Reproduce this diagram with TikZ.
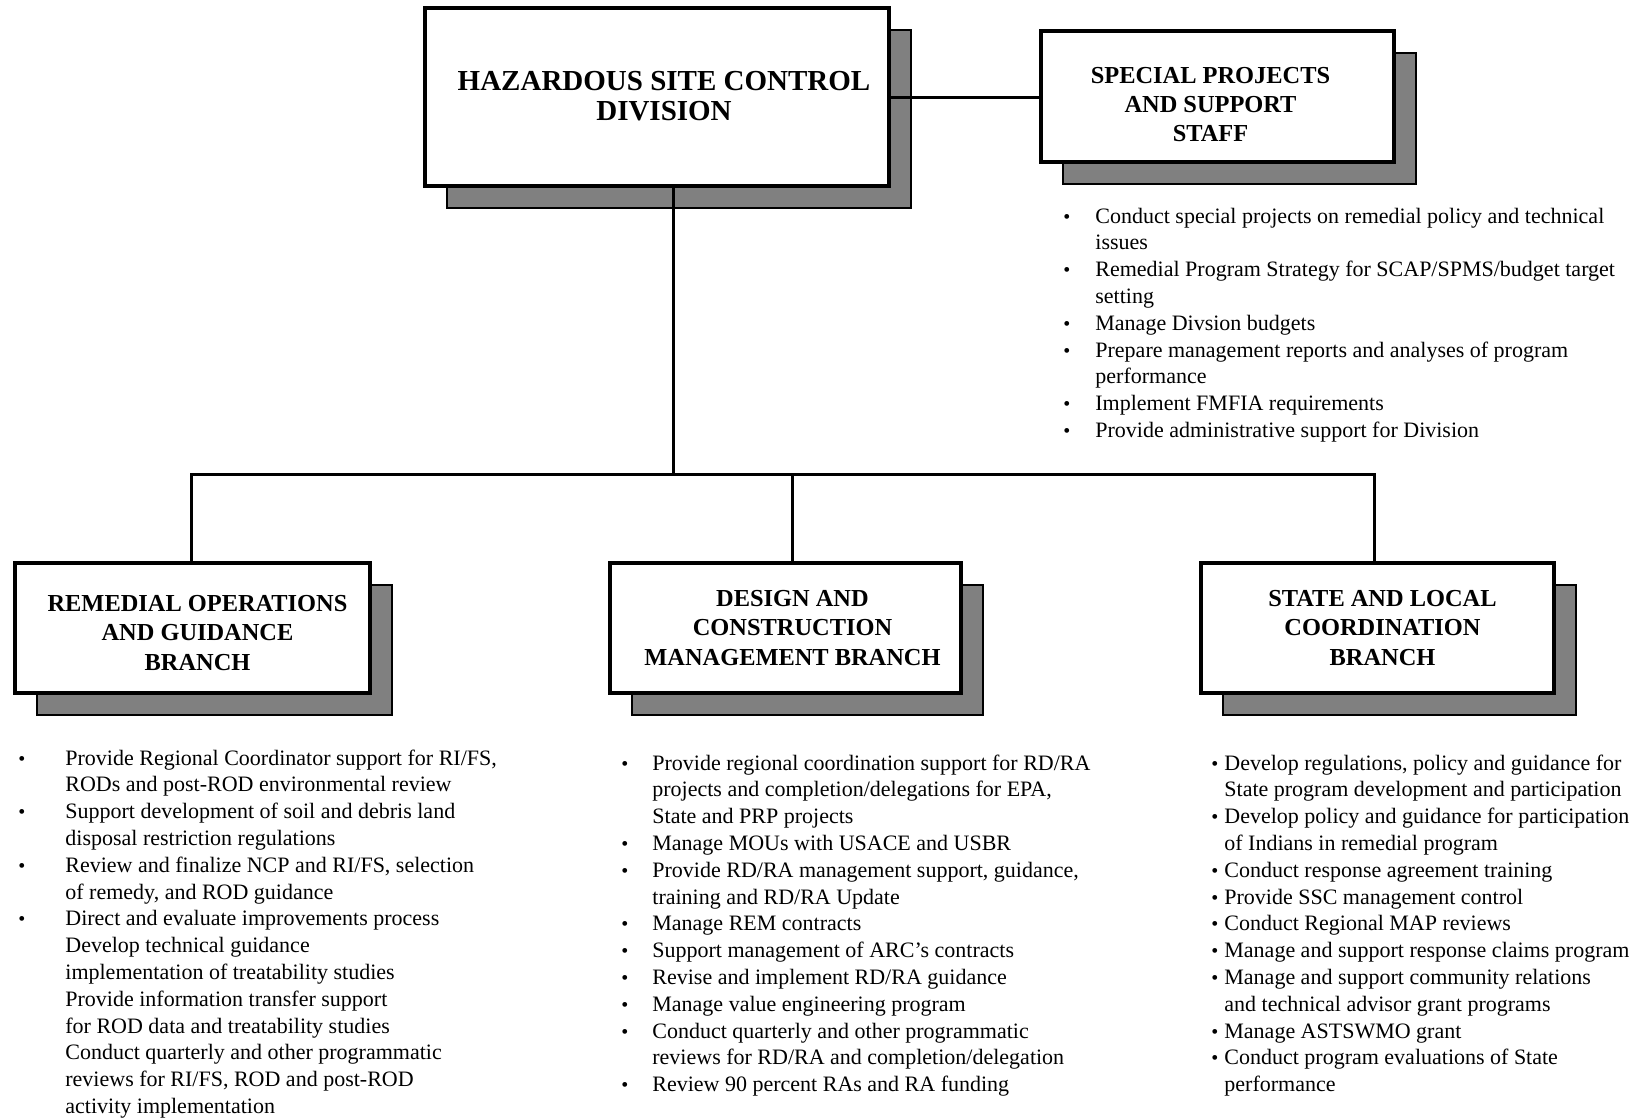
\documentclass[tikz,border=0pt]{standalone}
\usepackage{fontspec}
\setmainfont{Liberation Serif}
\usetikzlibrary{shadows}
\newcommand{\dotbul}{{\fontsize{10}{10}\selectfont\textbullet}}
\newcommand{\listfont}{\fontsize{11}{13.4}\selectfont}
\begin{document}
\begin{tikzpicture}[x=0.5pt,y=-0.5pt,
  orgbox/.style={draw=black, line width=1.8pt, fill=white, inner sep=0pt,
    drop shadow={shadow xshift=11pt, shadow yshift=-11pt, fill=black!50,
      draw=black, line width=1.4pt, opacity=1}},
  boxtitle/.style={align=center, inner sep=0pt,
    font=\bfseries\fontsize{12.2}{14.6}\selectfont},
  link/.style={draw=black, line width=1.5pt},
  itemlist/.style={anchor=base west, inner sep=0pt, font=\listfont}]
\useasboundingbox (0,0) rectangle (1635,1120);

% division and staff boxes
\node[orgbox, minimum width=232pt, minimum height=89pt] (hsc) at (657,97) {};
\node[boxtitle, font=\bfseries\fontsize{14.5}{15}\selectfont] (hsctitle)
  at ([shift={(7,-1)}]hsc.center) {HAZARDOUS SITE CONTROL\\DIVISION};
\node[orgbox, minimum width=176.5pt, minimum height=65.5pt] (sps) at (1217.5,96.5) {};
\node[boxtitle] (spstitle) at ([shift={(-7,8)}]sps.center)
  {SPECIAL PROJECTS\\AND SUPPORT\\STAFF};

% branch boxes
\node[orgbox, minimum width=177.5pt, minimum height=65pt] (rog) at (192.5,628) {};
\node[boxtitle] (rogtitle) at ([shift={(5,5)}]rog.center)
  {REMEDIAL OPERATIONS\\AND GUIDANCE\\BRANCH};
\node[orgbox, minimum width=175.5pt, minimum height=65pt] (dcm) at (785.5,628) {};
\node[boxtitle] (dcmtitle) at ([shift={(7,0)}]dcm.center)
  {DESIGN AND\\CONSTRUCTION\\MANAGEMENT BRANCH};
\node[orgbox, minimum width=176.5pt, minimum height=65pt] (slc) at (1377.5,628) {};
\node[boxtitle] (slctitle) at ([shift={(5,0)}]slc.center)
  {STATE AND LOCAL\\COORDINATION\\BRANCH};

% connectors
\coordinate (drop) at (673,474);
\coordinate (busL) at (191,474);
\coordinate (busM) at (792,474);
\coordinate (busR) at (1374,474);
\draw[link] (hsc.east) -- (hsc.east -| sps.west);
\draw[link] (hsc.south -| drop) -- (drop);
\draw[link, line cap=rect] (busL) -- (busR);
\draw[link] (busL) -- (busL |- rog.north);
\draw[link] (busM) -- (busM |- dcm.north);
\draw[link] (busR) -- (busR |- slc.north);

% duties of the staff
\node[itemlist] (spslist) at (1063,223) {%
\begin{tabular}[t]{@{}p{16pt}@{}l@{}}
\dotbul & Conduct special projects on remedial policy and technical\\
 & issues\\
\dotbul & Remedial Program Strategy for SCAP/SPMS/budget target\\
 & setting\\
\dotbul & Manage Divsion budgets\\
\dotbul & Prepare management reports and analyses of program\\
 & performance\\
\dotbul & Implement FMFIA requirements\\
\dotbul & Provide administrative support for Division
\end{tabular}};

% duties of the branches
\node[itemlist] (roglist) at (18,765) {%
\begin{tabular}[t]{@{}p{23.5pt}@{}l@{}}
\dotbul & Provide Regional Coordinator support for RI/FS,\\
 & RODs and post-ROD environmental review\\
\dotbul & Support development of soil and debris land\\
 & disposal restriction regulations\\
\dotbul & Review and finalize NCP and RI/FS, selection\\
 & of remedy, and ROD guidance\\
\dotbul & Direct and evaluate improvements process\\
 & Develop technical guidance\\
 & implementation of treatability studies\\
 & Provide information transfer support\\
 & for ROD data and treatability studies\\
 & Conduct quarterly and other programmatic\\
 & reviews for RI/FS, ROD and post-ROD\\
 & activity implementation
\end{tabular}};

\node[itemlist] (dcmlist) at (621,770) {%
\begin{tabular}[t]{@{}p{15.5pt}@{}l@{}}
\dotbul & Provide regional coordination support for RD/RA\\
 & projects and completion/delegations for EPA,\\
 & State and PRP projects\\
\dotbul & Manage MOUs with USACE and USBR\\
\dotbul & Provide RD/RA management support, guidance,\\
 & training and RD/RA Update\\
\dotbul & Manage REM contracts\\
\dotbul & Support management of ARC's contracts\\
\dotbul & Revise and implement RD/RA guidance\\
\dotbul & Manage value engineering program\\
\dotbul & Conduct quarterly and other programmatic\\
 & reviews for RD/RA and completion/delegation\\
\dotbul & Review 90 percent RAs and RA funding
\end{tabular}};

\node[itemlist] (slclist) at (1211,770) {%
\begin{tabular}[t]{@{}p{6.5pt}@{}l@{}}
\dotbul & Develop regulations, policy and guidance for\\
 & State program development and participation\\
\dotbul & Develop policy and guidance for participation\\
 & of Indians in remedial program\\
\dotbul & Conduct response agreement training\\
\dotbul & Provide SSC management control\\
\dotbul & Conduct Regional MAP reviews\\
\dotbul & Manage and support response claims program\\
\dotbul & Manage and support community relations\\
 & and technical advisor grant programs\\
\dotbul & Manage ASTSWMO grant\\
\dotbul & Conduct program evaluations of State\\
 & performance
\end{tabular}};
\end{tikzpicture}
\end{document}
